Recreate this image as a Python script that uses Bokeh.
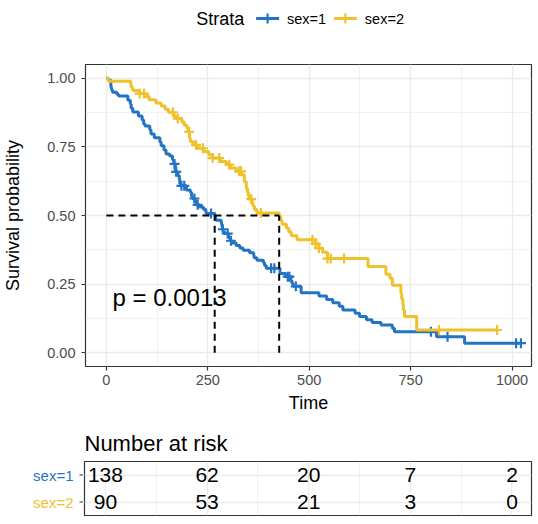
import numpy as np
from bokeh.plotting import figure
from bokeh.layouts import column, row
from bokeh.models import Range1d, FactorRange, FixedTicker, NumeralTickFormatter
from bokeh.core.properties import value
from bokeh.embed import file_html
from bokeh.resources import INLINE

# ---- data ----
strata = ["sex=1", "sex=2"]
colors = ["#2474C5", "#EFC12B"]

# Kaplan-Meier steps, sex=1
time_m = [0, 5, 11, 12, 13, 15, 26, 30, 53, 59, 61, 65, 79, 88, 92, 95,
          107, 110, 118, 132, 135, 142, 147, 156, 163, 166, 170, 176, 180, 181, 183, 197,
          207, 210, 212, 218, 222, 229, 239, 245, 246, 267, 269, 270, 283, 284, 285, 286,
          288, 291, 301, 303, 306, 310, 320, 329, 337, 353, 363, 364, 371, 387, 390, 394,
          428, 442, 455, 457, 460, 480, 524, 543, 558, 574, 583, 613, 624, 641, 655, 677,
          705, 710, 814, 883]
surv_m = [1.0, 0.993, 0.971, 0.964, 0.957, 0.949, 0.942, 0.935, 0.920, 0.906, 0.891, 0.877, 0.862, 0.848, 0.833, 0.826,
          0.812, 0.797, 0.783, 0.768, 0.754, 0.739, 0.724, 0.717, 0.703, 0.688, 0.659, 0.645, 0.631, 0.616, 0.608, 0.593,
          0.585, 0.570, 0.562, 0.554, 0.539, 0.531, 0.523, 0.515, 0.507, 0.499, 0.491, 0.483, 0.475, 0.467, 0.459, 0.450,
          0.442, 0.434, 0.425, 0.417, 0.408, 0.400, 0.391, 0.382, 0.373, 0.364, 0.355, 0.346, 0.337, 0.328, 0.318, 0.308,
          0.289, 0.277, 0.265, 0.254, 0.242, 0.219, 0.207, 0.194, 0.182, 0.169, 0.156, 0.144, 0.132, 0.120, 0.110, 0.101,
          0.089, 0.077, 0.058, 0.035]
end_m = 1022
cens_m = [168, 172, 185, 192, 217, 225, 258, 287, 299, 307, 406, 414, 447, 451, 467, 800, 841, 1010, 1022]

# Kaplan-Meier steps, sex=2
time_f = [0, 5, 60, 61, 65, 81, 95, 105, 122, 135, 145, 153, 166, 170, 186, 192,
          199, 201, 205, 207, 215, 224, 239, 252, 262, 281, 296, 305, 320, 333, 340, 345,
          348, 350, 351, 359, 361, 365, 371, 426, 430, 433, 444, 450, 456, 470, 516, 524,
          533, 545, 645, 689, 699, 705, 726, 728, 731, 732, 735, 765]
surv_f = [1.0, 0.989, 0.978, 0.967, 0.955, 0.944, 0.933, 0.922, 0.910, 0.899, 0.887, 0.876, 0.864, 0.853, 0.841, 0.829,
          0.817, 0.805, 0.781, 0.769, 0.757, 0.745, 0.733, 0.721, 0.709, 0.697, 0.685, 0.673, 0.661, 0.648, 0.623, 0.598,
          0.585, 0.572, 0.560, 0.547, 0.535, 0.522, 0.509, 0.495, 0.482, 0.468, 0.454, 0.440, 0.426, 0.412, 0.397, 0.381,
          0.366, 0.343, 0.314, 0.286, 0.271, 0.246, 0.216, 0.196, 0.176, 0.156, 0.132, 0.083]
end_f = 965
cens_f = [82, 93, 164, 176, 204, 221, 238, 262, 278, 303, 327, 332, 357, 381, 508, 516, 524, 545, 553, 586, 820, 963]

pval_text = "p = 0.0013"

risk_times = [0, 250, 500, 750, 1000]
risk_m = [138, 62, 20, 7, 2]
risk_f = [90, 53, 21, 3, 0]

FONT = "Liberation Sans"
GRID = "#EBEBEB"
DARK = "#333333"
LW = 3


def surv_at(t, s, ct):
    idx = np.searchsorted(t, ct, side="right") - 1
    return list(np.asarray(s)[idx])


def median_time(t, s):
    for ti, si in zip(t, s):
        if si <= 0.5:
            return ti


def bare(fig):
    fig.axis.visible = False
    fig.grid.visible = False
    fig.outline_line_color = None


x_rng = Range1d(-51.5, 1048)
xticker = FixedTicker(ticks=[0, 250, 500, 750, 1000], minor_ticks=[-125, 125, 375, 625, 875, 1125])
yticker = FixedTicker(ticks=[0, 0.25, 0.5, 0.75, 1.0], minor_ticks=[0.125, 0.375, 0.625, 0.875])

# ---- legend strip on top (page pixel coordinates, y from the top) ----
# the column aligns this frame with the plot frame (x 84..531)
leg = figure(width=538, height=36, x_range=Range1d(84, 531), y_range=Range1d(36, 0),
             output_backend="svg", toolbar_location=None,
             min_border_left=84, min_border_right=7, min_border_top=0, min_border_bottom=0)
bare(leg)
key_x = [255, 333]   # left end of each key line
key_y = 18
leg.text(x=[195], y=[key_y], text=["Strata"], text_font=value(FONT), text_font_size="18px",
         text_color="black", text_align="left", text_baseline="middle")
leg.segment(x0=key_x, y0=[key_y] * 2, x1=[k + 23 for k in key_x], y1=[key_y] * 2,
            line_color=colors, line_width=LW)
leg.scatter([k + 11.5 for k in key_x], [key_y] * 2, marker="cross", size=10,
            line_color=colors, line_width=2.2)
leg.text(x=[k + 31 for k in key_x], y=[key_y] * 2, text=strata, text_font=value(FONT),
         text_font_size="14.5px", text_color="black", text_align="left", text_baseline="middle")

# ---- survival curves ----
p = figure(width=538, height=387, x_range=x_rng, y_range=Range1d(-0.05, 1.05),
           output_backend="svg", toolbar_location=None,
           min_border_left=84, min_border_right=7, min_border_top=28, min_border_bottom=57)
p.outline_line_color = DARK
p.outline_line_width = 1.2
p.xaxis.ticker = xticker
p.yaxis.ticker = yticker
p.yaxis.formatter = NumeralTickFormatter(format="0.00")
p.xaxis.axis_label = "Time"
p.yaxis.axis_label = "Survival probability"
for ax in (p.xaxis, p.yaxis):
    ax.axis_line_color = None
    ax.major_tick_in = 0
    ax.major_tick_out = 4
    ax.major_tick_line_color = DARK
    ax.major_tick_line_width = 1.2
    ax.minor_tick_line_color = None
    ax.major_label_text_font = FONT
    ax.major_label_text_font_size = "14.5px"
    ax.major_label_text_color = "#4D4D4D"
    ax.axis_label_text_font = FONT
    ax.axis_label_text_font_size = "18px"
    ax.axis_label_text_font_style = "normal"
    ax.axis_label_text_color = "black"
p.xaxis.major_label_standoff = 4
p.xaxis.axis_label_standoff = 5
p.yaxis.major_label_standoff = 6
p.yaxis.axis_label_standoff = 21

for g in (p.xgrid, p.ygrid):
    g.grid_line_color = GRID
    g.grid_line_width = 1.3
    g.minor_grid_line_color = GRID
    g.minor_grid_line_width = 0.7
p.xgrid.ticker = xticker
p.ygrid.ticker = yticker

for name, col, t, s, end, cens in [(strata[0], colors[0], time_m, surv_m, end_m, cens_m),
                                   (strata[1], colors[1], time_f, surv_f, end_f, cens_f)]:
    p.step(list(t) + [end], list(s) + [s[-1]], mode="after", line_color=col, line_width=LW)
    p.scatter(cens, surv_at(t, s, cens), marker="cross", size=10, line_color=col, line_width=2.2)

meds = [median_time(time_m, surv_m), median_time(time_f, surv_f)]
p.line([0, max(meds)], [0.5, 0.5], line_color="black", line_width=2, line_dash="7 5")
p.segment(x0=meds, y0=[0, 0], x1=meds, y1=[0.5, 0.5], line_color="black", line_width=2, line_dash="7 5")

p.text(x=[15], y=[0.2], text=[pval_text], text_font=value(FONT), text_font_size="24px",
       text_color="black", text_align="left", text_baseline="alphabetic")

# ---- risk table ----
risk_y = FactorRange(*strata[::-1])

p2 = figure(width=455, height=101, x_range=x_rng, y_range=risk_y,
            output_backend="svg", toolbar_location=None, title="Number at risk",
            min_border_left=1, min_border_right=7, min_border_top=37, min_border_bottom=9)
p2.title.text_font = FONT
p2.title.text_font_size = "22px"
p2.title.text_font_style = "normal"
p2.title.text_color = "black"
p2.title.align = "left"
p2.title.offset = 0
p2.title.standoff = 11
p2.outline_line_color = DARK
p2.outline_line_width = 1.2
p2.xaxis.visible = False
p2.yaxis.visible = False
p2.xgrid.ticker = xticker
p2.xgrid.grid_line_color = GRID
p2.xgrid.grid_line_width = 1.3
p2.xgrid.minor_grid_line_color = GRID
p2.xgrid.minor_grid_line_width = 0.7
p2.ygrid.grid_line_color = GRID
p2.ygrid.grid_line_width = 1.3

for name, counts in [(strata[0], risk_m), (strata[1], risk_f)]:
    p2.text(x=risk_times, y=[name] * len(risk_times), text=[str(c) for c in counts],
            text_font=value(FONT), text_font_size="21px", text_color="black",
            text_align="center", text_baseline="middle")

# coloured strata labels + ticks to the left of the table
lab = figure(width=83, height=101, x_range=Range1d(0, 83), y_range=risk_y,
             output_backend="svg", toolbar_location=None,
             min_border_left=0, min_border_right=0, min_border_top=37, min_border_bottom=9)
bare(lab)
lab.text(x=[73] * len(strata), y=strata, text=strata, text_color=colors,
         text_font=value(FONT), text_font_size="15px", text_align="right", text_baseline="middle")
lab.segment(x0=[79] * len(strata), y0=strata, x1=[83] * len(strata), y1=strata,
            line_color=DARK, line_width=1.2)

layout = column(leg, p, row(lab, p2))
open("out.html", "w").write(file_html(layout, INLINE))
